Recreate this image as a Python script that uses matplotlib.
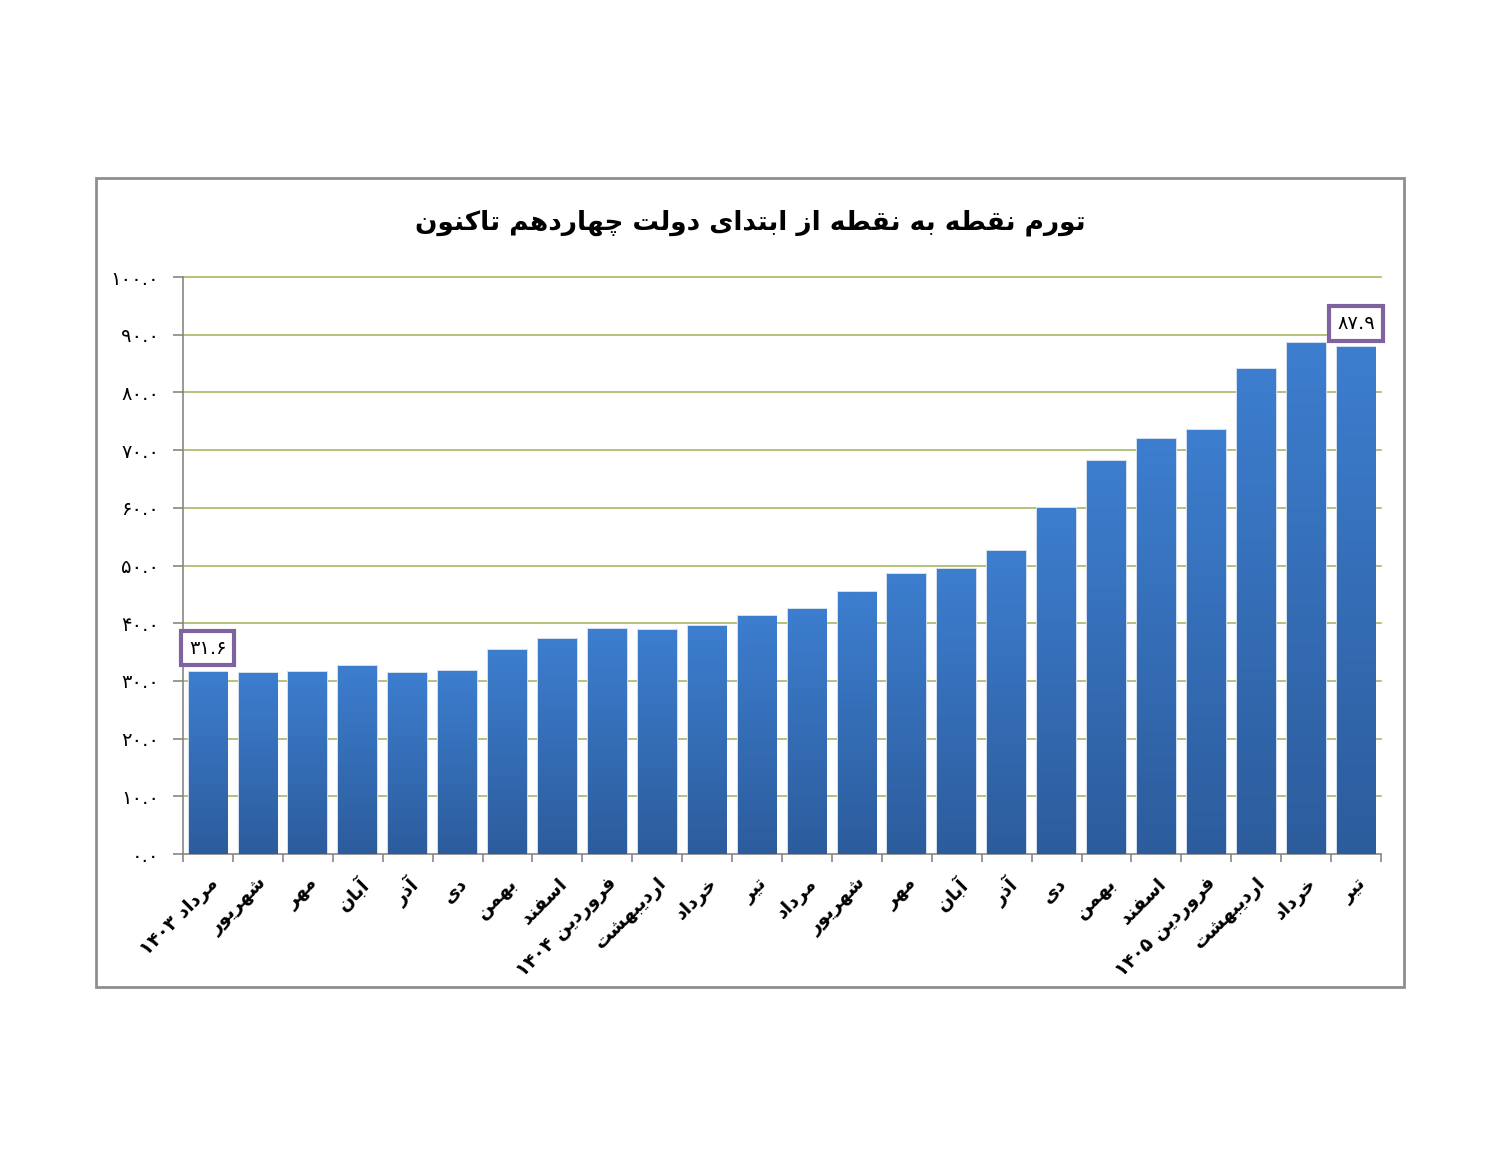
import matplotlib
matplotlib.use("Agg")
import matplotlib.pyplot as plt
import numpy as np
from matplotlib.colors import LinearSegmentedColormap
from matplotlib.patches import Rectangle

plt.rcParams['font.family'] = ['DejaVu Sans']

title = "تورم نقطه به نقطه از ابتدای دولت چهاردهم تاکنون"
months = ["مرداد ۱۴۰۳", "شهریور", "مهر", "آبان", "آذر", "دی", "بهمن", "اسفند",
          "فروردین ۱۴۰۴", "اردیبهشت", "خرداد", "تیر", "مرداد", "شهریور", "مهر",
          "آبان", "آذر", "دی", "بهمن", "اسفند", "فروردین ۱۴۰۵", "اردیبهشت",
          "خرداد", "تیر"]
values = [31.6, 31.3, 31.6, 32.6, 31.4, 31.8, 35.4, 37.3, 39.0, 38.8, 39.5, 41.2,
          42.5, 45.4, 48.6, 49.4, 52.6, 59.9, 68.1, 71.9, 73.5, 84.0, 88.6, 87.9]
yticks = [0, 10, 20, 30, 40, 50, 60, 70, 80, 90, 100]
labelled = {0: "۳۱.۶", 23: "۸۷.۹"}

# presentation forms: isolated, final, initial, medial
FORMS = {
    'ا': ('\uFE8D', '\uFE8E', None, None),
    'آ': ('\uFE81', '\uFE82', None, None),
    'ب': ('\uFE8F', '\uFE90', '\uFE91', '\uFE92'),
    'ت': ('\uFE95', '\uFE96', '\uFE97', '\uFE98'),
    'خ': ('\uFEA5', '\uFEA6', '\uFEA7', '\uFEA8'),
    'د': ('\uFEA9', '\uFEAA', None, None),
    'ذ': ('\uFEAB', '\uFEAC', None, None),
    'ر': ('\uFEAD', '\uFEAE', None, None),
    'ز': ('\uFEAF', '\uFEB0', None, None),
    'س': ('\uFEB1', '\uFEB2', '\uFEB3', '\uFEB4'),
    'ش': ('\uFEB5', '\uFEB6', '\uFEB7', '\uFEB8'),
    'ط': ('\uFEC1', '\uFEC2', '\uFEC3', '\uFEC4'),
    'ف': ('\uFED1', '\uFED2', '\uFED3', '\uFED4'),
    'ق': ('\uFED5', '\uFED6', '\uFED7', '\uFED8'),
    'ل': ('\uFEDD', '\uFEDE', '\uFEDF', '\uFEE0'),
    'م': ('\uFEE1', '\uFEE2', '\uFEE3', '\uFEE4'),
    'ن': ('\uFEE5', '\uFEE6', '\uFEE7', '\uFEE8'),
    'ه': ('\uFEE9', '\uFEEA', '\uFEEB', '\uFEEC'),
    'و': ('\uFEED', '\uFEEE', None, None),
    'ی': ('\uFBFC', '\uFBFD', '\uFBFE', '\uFBFF'),
    'چ': ('\uFB7A', '\uFB7B', '\uFB7C', '\uFB7D'),
    'ک': ('\uFB8E', '\uFB8F', '\uFB90', '\uFB91'),
}


def shape_word(w):
    out = []
    for i, c in enumerate(w):
        if c not in FORMS:
            out.append(c)
            continue
        prev = w[i - 1] if i > 0 else None
        nxt = w[i + 1] if i + 1 < len(w) else None
        jp = prev in FORMS and FORMS[prev][2] is not None
        jn = nxt in FORMS and FORMS[c][2] is not None
        iso, fin, ini, med = FORMS[c]
        if jp and jn:
            out.append(med)
        elif jp:
            out.append(fin)
        elif jn:
            out.append(ini)
        else:
            out.append(iso)
    return ''.join(out)


def rtl(text):
    toks = []
    for t in text.split(' '):
        if any(ch in FORMS for ch in t):
            toks.append(shape_word(t)[::-1])
        else:
            toks.append(t)
    return ' '.join(toks[::-1])


def fa_num(s):
    return s.translate(str.maketrans("0123456789", "۰۱۲۳۴۵۶۷۸۹"))


fig = plt.figure(figsize=(15, 11.64), dpi=100)
ax = fig.add_axes([0.122, 0.2663, 0.7987, 0.4957])

# outer chart frame
fig.patches.append(Rectangle((0.064, 0.152), 0.872, 0.695, transform=fig.transFigure,
                             fill=False, ec='#8e8e8e', lw=2))

x = np.arange(len(values))
bars = ax.bar(x, values, width=0.775, color='none', edgecolor='#d3dff0', lw=1.5, zorder=2)

cmap = LinearSegmentedColormap.from_list("blu", ['#2c5c9c', '#3d7ecf'])
grad = np.linspace(0, 1, 256).reshape(-1, 1)
for b in bars:
    x0, w, h = b.get_x(), b.get_width(), b.get_height()
    im = ax.imshow(grad, extent=[x0, x0 + w, 0, h], origin='lower', aspect='auto',
                   cmap=cmap, zorder=3)
    im.set_clip_path(b)

for i, txt in labelled.items():
    ax.annotate(txt, xy=(i, values[i]), xytext=(0, 17), textcoords='offset points',
                ha='center', va='center', fontsize=14,
                bbox=dict(boxstyle='square,pad=0.4', fc='white', ec='#7f63a1', lw=3),
                zorder=5)

ax.set_xlim(-0.5, len(values) - 0.5)
ax.set_ylim(0, 100)
ax.set_yticks(yticks)
ax.set_yticklabels([fa_num(f"{v:.1f}") for v in yticks], fontsize=14)
for v in yticks[1:]:
    ax.axhline(v, color='#a8b764', lw=1.2, zorder=0, clip_on=False)

ax.set_xticks(x)
ax.set_xticklabels([rtl(m) for m in months], rotation=45, ha='right',
                   rotation_mode='anchor', fontsize=13.5, fontweight='bold')
ax.set_xticks(np.arange(-0.5, len(values), 1), minor=True)
ax.tick_params(axis='x', which='major', length=0, pad=14)
ax.tick_params(axis='x', which='minor', length=6, color='#868686', width=1.2)
ax.tick_params(axis='y', length=7, color='#868686', width=1.2, pad=10)

for s in ['top', 'right']:
    ax.spines[s].set_visible(False)
for s in ['left', 'bottom']:
    ax.spines[s].set_color('#868686')
    ax.spines[s].set_linewidth(1.2)

fig.text(0.5, 0.809, rtl(title), ha='center', va='center', fontsize=19, fontweight='bold')

fig.savefig("out.png", dpi=100)
